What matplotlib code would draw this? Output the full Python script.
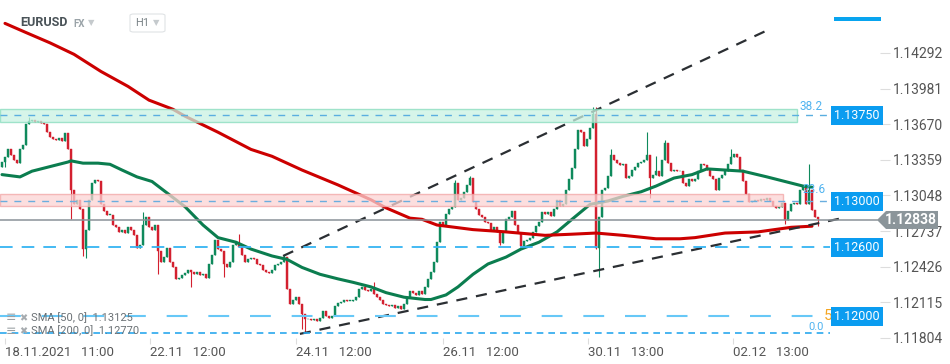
import matplotlib
matplotlib.use("Agg")
import matplotlib.pyplot as plt
from matplotlib.patches import Polygon, FancyBboxPatch
import numpy as np

plt.rcParams['font.family'] = ['Roboto', 'DejaVu Sans']

# EURUSD H1 closes, in pips above 1.12000 (one value per hourly candle)
first_open = 130
close_pips = [
    134, 138, 145, 140, 136, 133, 145, 149, 167, 170, 171, 169, 170, 168, 167, 160,
    156, 154, 153, 155, 152, 159, 145, 110, 97, 101, 93, 58, 75, 101, 116, 118,
    117, 97, 91, 88, 88, 79, 77, 73, 75, 72, 77, 75, 70, 59, 62, 79,
    86, 77, 75, 79, 56, 47, 51, 59, 47, 42, 32, 33, 35, 37, 40, 38,
    36, 38, 35, 36, 33, 45, 53, 66, 58, 56, 45, 42, 47, 62, 63, 60,
    53, 47, 49, 50, 49, 45, 44, 40, 38, 37, 40, 44, 45, 47, 51, 23,
    10, 14, 16, 10, 1, -3, -3, -4, -3, -5, -2, 4, 0, -2, 0, 8,
    11, 12, 14, 13, 13, 14, 16, 23, 25, 22, 21, 23, 19, 16, 14, 10,
    9, 8, 9, 7, 8, 6, 10, 16, 21, 20, 18, 21, 19, 25, 32, 38,
    47, 64, 82, 79, 89, 93, 95, 116, 101, 103, 108, 114, 120, 99, 93, 88,
    86, 82, 81, 75, 77, 73, 63, 73, 84, 86, 91, 79, 72, 61, 65, 66,
    68, 73, 78, 82, 90, 89, 90, 87, 93, 101, 96, 97, 110, 119, 129, 145,
    162, 160, 148, 154, 164, 176, 59, 86, 110, 111, 122, 140, 136, 133, 131, 132,
    120, 122, 127, 130, 133, 134, 136, 140, 120, 123, 126, 122, 136, 151, 133, 126,
    127, 126, 126, 116, 113, 119, 117, 119, 126, 132, 131, 127, 122, 119, 110, 120,
    123, 126, 132, 138, 141, 138, 127, 117, 106, 99, 100, 101, 100, 102, 101, 103,
    100, 96, 94, 95, 98, 83, 91, 97, 98, 97, 110, 112, 97, 110, 92, 86,
    84,
]
# long wicks (candle index -> pips)
wick_high = {9: 173, 23: 112, 47: 90, 79: 71, 94: 53, 124: 29, 151: 118, 156: 122,
             197: 182, 198: 182, 203: 145, 215: 160, 218: 139, 221: 153, 243: 145, 269: 132}
wick_low = {1: 130, 23: 84, 27: 52, 28: 50, 52: 36, 63: 25, 74: 34, 100: -12, 101: -15,
            166: 62, 198: 58, 199: 34, 216: 103, 261: 80, 272: 78}

# moving averages (candle index, pips)
sma50_idx = [0, 6, 10, 16, 22, 23, 27, 32, 36, 40, 45, 50, 55, 61, 67, 72, 78, 83, 90, 95,
             100, 106, 112, 117, 123, 128, 134, 141, 143, 148, 152, 157, 162, 168, 173, 179,
             185, 190, 196, 202, 207, 213, 218, 224, 230, 235, 241, 247, 255, 261, 267, 270]
sma50_pips = [123, 121, 126, 130, 134, 135, 133, 133, 132, 127, 121, 117, 107, 95, 79, 68, 64,
              58, 52, 49, 42, 36, 32, 29, 25, 20, 16, 14, 14, 18, 25, 36, 45, 51, 58, 64, 73,
              84, 97, 100, 104, 108, 113, 120, 123, 128, 127, 126, 121, 117, 113, 112]
sma200_idx = [1, 8, 16, 24, 33, 42, 49, 57, 61, 72, 83, 90, 100, 112, 123, 128, 136, 140, 145,
              151, 157, 168, 181, 190, 198, 207, 218, 226, 231, 241, 252, 263, 270]
sma200_pips = [255, 247, 238, 228, 213, 200, 188, 180, 174, 160, 145, 139, 127, 114, 101, 94,
               85, 84, 79, 77, 75, 73, 70, 71, 72, 70, 67, 67, 68, 72, 73, 77, 78]

# trend lines (candle index, pips)
upper_trend = ([93.7, 254.3], [52, 248])
lower_trend = ([99.3, 280], [-16, 85])

zones = [(169, 180, '#c9f2e2', '#86dcbc', 797), (96, 106, '#fbd3d3', '#f2a5a5', 783)]
levels = [1.13750, 1.13000, 1.12600, 1.12000]
last_price = 1.12838
yticks = [1.14292, 1.13981, 1.13670, 1.13359, 1.13048, 1.12737, 1.12426, 1.12115, 1.11804]
xtick_idx = [1, 49.3, 98, 147, 195.3, 243.7]
xtick_lab = ['18.11.2021   11:00', '22.11   12:00', '24.11   12:00', '26.11   12:00',
             '30.11   13:00', '02.12   13:00']


def p(v):
    return 1.12 + np.asarray(v, dtype=float) / 10000


W, H = 950, 364
fig = plt.figure(figsize=(W / 100, H / 100), dpi=100)
ax = fig.add_axes([0, 26 / H, 880 / W, 338 / H])
ax.set_xlim(-0.667, 292.67)
ax.set_ylim(p(-19.0), p(275.4))
for s in ax.spines.values():
    s.set_visible(False)

closes = p(close_pips)
opens = np.concatenate([[p(first_open)], closes[:-1]])
highs = np.maximum(opens, closes)
lows = np.minimum(opens, closes)
for k, v in wick_high.items():
    highs[k] = max(highs[k], p(v))
for k, v in wick_low.items():
    lows[k] = min(lows[k], p(v))
idx = np.arange(len(closes))
up = closes >= opens
cols = np.where(up, '#0f8a5c', '#d3202f')
ax.vlines(idx, lows, highs, colors=cols, lw=0.8, zorder=3)
bodies = np.maximum(np.abs(closes - opens), 0.00003)
ax.bar(idx, bodies, bottom=np.minimum(opens, closes), width=0.72, color=cols,
       edgecolor=cols, lw=0.3, zorder=4)

ax.plot(sma50_idx, p(sma50_pips), color='#0b7d4f', lw=2.2, zorder=5, solid_capstyle='round')
ax.plot(sma200_idx, p(sma200_pips), color='#cc0000', lw=2.2, zorder=5, solid_capstyle='round')

ax.plot(upper_trend[0], p(upper_trend[1]), color='#2b2f33', lw=1.6, ls=(0, (5, 4)), zorder=6)
ax.plot(lower_trend[0], p(lower_trend[1]), color='#2b2f33', lw=1.6, ls=(0, (5, 4)), zorder=6)

for lo, hi, fc, ec, xend in zones:
    ax.axhspan(p(lo), p(hi), xmin=0, xmax=xend / 880, facecolor=fc, edgecolor=ec,
               lw=1, alpha=0.75, zorder=7)

ax.axhline(levels[0], xmax=830 / 880, color='#5aaee0', lw=1, ls=(0, (5, 5)), zorder=8)
ax.axhline(levels[1], xmax=830 / 880, color='#6aaedf', lw=1, ls=(0, (5, 5)), zorder=8)
ax.axhline(levels[2], xmax=830 / 880, color='#35b4f2', lw=1.3, ls=(0, (7, 5)), zorder=8)
ax.axhline(levels[3], xmax=830 / 880, color='#67c8f7', lw=1.5, ls=(0, (10, 10)), zorder=8)
ax.axhline(p(-14.8), xmax=830 / 880, color='#2aa8ee', lw=1.2, ls=(0, (4, 3)), zorder=8)
ax.axhline(last_price, xmax=877 / 880, color='#8a9298', lw=1.1, zorder=8)

ax.yaxis.tick_right()
ax.set_yticks(yticks)
ax.set_yticklabels([f'{v:.5f}' for v in yticks])
ax.tick_params(axis='y', length=7, width=0.8, color='#dddddd', pad=2,
               labelsize=10, labelcolor='#555555')
ax.set_xticks(xtick_idx)
ax.set_xticklabels(xtick_lab, ha='left')
ax.tick_params(axis='x', length=4, width=0.8, color='#dddddd', pad=2,
               labelsize=9.5, labelcolor='#555555')


def fx(x):
    return x / W


def fy(y):
    return 1 - y / H


# right-side level tags
for lv in levels:
    ypx = (275.4 - (lv - 1.12) * 10000) / 0.871
    fig.text(fx(857), fy(ypx), f'{lv:.5f}', color='white', fontsize=9, ha='center',
             va='center', zorder=10,
             bbox=dict(boxstyle='square,pad=0.25', facecolor='#0a9cf0', edgecolor='none'))
ytag = (275.4 - (last_price - 1.12) * 10000) / 0.871
tag = Polygon([(fx(877), fy(ytag)), (fx(886), fy(ytag - 9)), (fx(938), fy(ytag - 9)),
               (fx(938), fy(ytag + 9)), (fx(886), fy(ytag + 9))], closed=True,
              transform=fig.transFigure, facecolor='#8b959a', edgecolor='none', zorder=10)
fig.patches.append(tag)
fig.text(fx(911), fy(ytag), f'{last_price:.5f}', color='white', fontsize=10,
         fontweight='bold', ha='center', va='center', zorder=11)

# fibonacci labels
fig.text(fx(800), fy(106), '38.2', color='#4fb3f0', fontsize=8.5, va='center')
fig.text(fx(802), fy(189), '23.6', color='#4fb3f0', fontsize=8.5, va='center')
fig.text(fx(808), fy(327), '0.0', color='#4fb3f0', fontsize=8, va='center')
fig.text(fx(824), fy(316), '5', color='#f5a623', fontsize=11, va='center')

# header
fig.text(fx(20), fy(23), 'EURUSD', color='#4a5358', fontsize=9, fontweight='bold', va='center')
fig.text(fx(73), fy(24), 'FX', color='#9aa3a8', fontsize=7, fontweight='bold', va='center')
fig.text(fx(88), fy(23), '▼', color='#c5cacd', fontsize=6, va='center')
box = FancyBboxPatch((fx(130), fy(32)), fx(35), 18 / H, boxstyle='round,pad=0,rounding_size=0.004',
                     transform=fig.transFigure, facecolor='white', edgecolor='#e0e3e5', lw=0.8)
fig.patches.append(box)
fig.text(fx(135), fy(23), 'H1', color='#7b8488', fontsize=8, va='center')
fig.text(fx(153), fy(23), '▼', color='#c5cacd', fontsize=6, va='center')
fig.patches.append(plt.Rectangle((fx(834), fy(21)), fx(47), 4 / H, transform=fig.transFigure,
                                 facecolor='#08a4ef', edgecolor='none'))

# indicator legend
for ypx, txt in [(318, 'SMA [50, 0]  1.13125'), (331, 'SMA [200, 0]  1.12770')]:
    fig.text(fx(6), fy(ypx), '≡', color='#9aa0a4', fontsize=9, va='center', zorder=12)
    fig.text(fx(19), fy(ypx), '✖', color='#a6abaf', fontsize=7, va='center', zorder=12)
    fig.text(fx(31), fy(ypx), txt, color='#6b7175', fontsize=8, va='center', zorder=12)

fig.savefig('out.png', dpi=100, facecolor='white')
